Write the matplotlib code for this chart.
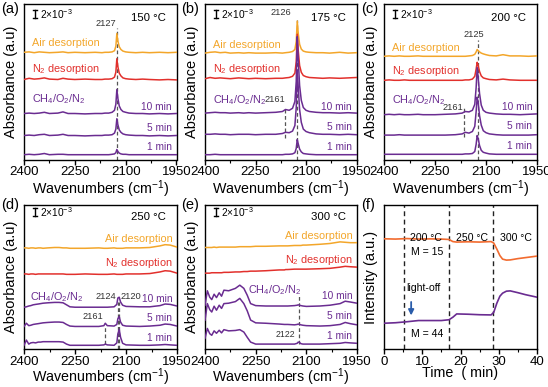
import matplotlib
matplotlib.use("Agg")
import matplotlib.pyplot as plt
from matplotlib.transforms import blended_transform_factory
from matplotlib.ticker import MultipleLocator

plt.rcParams['font.family'] = ['Liberation Sans', 'DejaVu Sans']
plt.rcParams['mathtext.fontset'] = 'custom'
plt.rcParams['mathtext.rm'] = 'Liberation Sans'
plt.rcParams['mathtext.it'] = 'Liberation Sans:italic'
plt.rcParams['mathtext.bf'] = 'Liberation Sans:bold'

# ---------------- data (absorbance, units of 1e-3, stacked as drawn) ----------------
wn_top = [2400, 2385, 2370, 2355, 2340, 2325, 2300, 2285, 2270, 2250, 2220, 2190, 2170, 2161,
          2150, 2140, 2133, 2129, 2126, 2123, 2119, 2114, 2108, 2100, 2090, 2070, 2050, 2030,
          2000, 1975, 1950]

a_air = [26.8, 26.9, 26.7, 26.9, 26.8, 26.7, 26.8, 26.9, 26.7, 26.8, 26.7, 26.8, 26.7, 26.8, 26.8, 26.9,
         27.2, 28.3, 31.5, 29.6, 28.2, 27.5, 27.1, 26.9, 26.8, 26.7, 26.8, 26.7, 26.8, 26.7, 26.8]
a_n2 = [20.0, 20.3, 20.1, 20.2, 20.4, 20.1, 20.0, 20.3, 20.1, 20.0, 20.1, 20.0, 20.0, 20.1, 20.1, 20.2,
        20.6, 21.8, 25.2, 23.2, 21.6, 20.9, 20.4, 20.2, 20.1, 20.0, 20.1, 20.0, 19.9, 20.0, 19.9]
a_10 = [11.5, 11.6, 11.5, 11.6, 11.8, 11.5, 11.6, 11.9, 11.5, 11.5, 11.4, 11.5, 11.5, 11.6, 11.6, 11.8,
        12.3, 13.8, 17.5, 15.3, 13.4, 12.5, 12.0, 11.8, 11.6, 11.5, 11.5, 11.4, 11.5, 11.4, 11.5]
a_5 = [6.0, 6.1, 6.0, 6.2, 6.3, 6.0, 6.1, 6.3, 6.0, 6.0, 5.9, 6.0, 6.0, 6.1, 6.1, 6.2,
       6.6, 7.6, 10.2, 8.7, 7.4, 6.8, 6.4, 6.2, 6.1, 6.0, 6.0, 5.9, 6.0, 5.9, 6.0]
a_1 = [1.2, 1.3, 1.2, 1.3, 1.5, 1.2, 1.3, 1.3, 1.2, 1.2, 1.2, 1.2, 1.2, 1.2, 1.2, 1.3,
       1.4, 1.7, 2.5, 2.0, 1.6, 1.4, 1.3, 1.3, 1.2, 1.2, 1.2, 1.2, 1.2, 1.2, 1.2]

b_air = [26.6, 26.8, 26.9, 26.7, 26.8, 26.6, 26.7, 26.6, 26.7, 26.6, 26.6, 26.7, 26.6, 26.7, 26.8, 27.0,
         27.5, 29.5, 34.6, 31.5, 28.8, 27.6, 27.1, 26.9, 26.8, 26.7, 26.7, 26.6, 26.8, 26.6, 26.7]
b_n2 = [20.2, 20.5, 20.3, 20.4, 20.3, 20.2, 20.4, 20.3, 20.2, 20.3, 20.2, 20.3, 20.3, 20.4, 20.5, 20.8,
        21.6, 24.5, 31.3, 27.2, 23.5, 21.8, 21.0, 20.7, 20.5, 20.4, 20.3, 20.4, 20.3, 20.4, 20.5]
b_10 = [11.6, 11.7, 11.8, 11.7, 11.7, 11.6, 11.7, 11.6, 11.7, 11.6, 11.7, 11.8, 12.0, 12.5, 12.3, 12.8,
        14.5, 19.5, 30.7, 25.0, 18.5, 14.8, 13.0, 12.3, 12.0, 11.8, 11.7, 11.7, 11.6, 11.7, 11.6]
b_5 = [6.3, 6.3, 6.4, 6.3, 6.3, 6.2, 6.3, 6.3, 6.3, 6.2, 6.3, 6.3, 6.5, 6.8, 6.7, 7.1,
       8.5, 13.0, 22.3, 18.0, 12.5, 9.3, 7.6, 7.0, 6.7, 6.4, 6.3, 6.3, 6.2, 6.3, 6.2]
b_1 = [1.2, 1.2, 1.3, 1.2, 1.2, 1.2, 1.2, 1.2, 1.2, 1.2, 1.2, 1.2, 1.2, 1.3, 1.3, 1.4,
       1.7, 2.8, 5.0, 3.9, 2.6, 1.9, 1.5, 1.4, 1.3, 1.2, 1.2, 1.2, 1.2, 1.2, 1.2]

c_air = [25.8, 25.9, 25.8, 25.9, 25.8, 25.8, 25.9, 25.8, 25.8, 25.8, 25.8, 25.8, 25.8, 25.8, 25.9, 26.0,
         26.3, 26.9, 27.5, 27.2, 26.9, 26.6, 26.4, 26.2, 26.0, 25.9, 26.2, 25.9, 25.9, 25.8, 25.9]
c_n2 = [19.8, 19.9, 19.8, 19.8, 19.9, 19.8, 19.8, 19.8, 19.8, 19.8, 19.8, 19.8, 19.8, 19.9, 19.9, 20.1,
        20.8, 22.6, 24.3, 23.5, 22.0, 20.9, 20.4, 20.2, 20.0, 19.9, 20.1, 19.9, 19.8, 19.8, 19.8]
c_10 = [11.2, 11.3, 11.2, 11.3, 11.2, 11.2, 11.3, 11.2, 11.2, 11.2, 11.3, 11.4, 11.6, 12.0, 11.9, 12.3,
        13.8, 18.0, 23.0, 20.5, 16.5, 13.6, 12.3, 11.8, 11.6, 11.4, 11.3, 11.3, 11.2, 11.3, 11.4]
c_5 = [6.1, 6.1, 6.1, 6.2, 6.1, 6.1, 6.1, 6.1, 6.1, 6.1, 6.1, 6.2, 6.4, 6.8, 6.6, 7.0,
       8.3, 12.0, 15.6, 14.2, 11.0, 8.6, 7.2, 6.7, 6.4, 6.2, 6.1, 6.1, 6.1, 6.1, 6.2]
c_1 = [1.3, 1.3, 1.3, 1.3, 1.3, 1.3, 1.3, 1.3, 1.3, 1.3, 1.3, 1.3, 1.3, 1.4, 1.4, 1.5,
       2.0, 3.8, 6.0, 5.2, 3.5, 2.3, 1.8, 1.6, 1.4, 1.3, 1.3, 1.3, 1.3, 1.3, 1.3]

wn_bot = [2400, 2393, 2386, 2380, 2373, 2366, 2358, 2351, 2344, 2330, 2310, 2297, 2285, 2275, 2265,
          2250, 2220, 2180, 2165, 2161, 2155, 2135, 2127, 2124, 2120, 2116, 2110, 2100, 2060, 2030,
          2000, 1985, 1970, 1950]

d_air = [25.3, 25.3, 25.2, 25.3, 25.3, 25.2, 25.3, 25.3, 25.2, 25.3, 25.4, 25.4, 25.3, 25.3, 25.2, 25.2, 25.2,
         25.3, 25.2, 25.2, 25.2, 25.3, 25.2, 25.2, 25.2, 25.2, 25.2, 25.3, 25.3, 25.4, 25.8, 26.1, 26.0, 25.5]
d_n2 = [18.8, 18.8, 18.7, 18.8, 18.8, 18.7, 18.8, 18.8, 18.8, 18.8, 18.8, 18.8, 18.8, 18.7, 18.7, 18.7, 18.8,
        18.7, 18.7, 18.7, 18.7, 18.8, 18.7, 18.7, 18.7, 18.7, 18.7, 18.8, 18.8, 18.9, 19.3, 19.6, 19.5, 19.0]
d_10 = [10.5, 10.6, 10.8, 10.9, 11.1, 11.2, 11.3, 11.4, 11.5, 11.6, 11.7, 11.7, 11.6, 11.1, 10.6, 10.5, 10.5,
        10.5, 10.5, 10.5, 10.5, 10.6, 11.2, 12.8, 13.0, 11.8, 11.0, 10.7, 10.6, 10.6, 10.9, 11.3, 11.2, 10.8]
d_5 = [5.7, 6.5, 5.9, 6.0, 6.2, 6.3, 6.4, 6.5, 6.6, 6.7, 6.8, 6.8, 6.7, 6.2, 5.8, 5.7, 5.7,
       5.7, 5.9, 6.5, 5.9, 5.8, 6.2, 7.6, 8.2, 6.8, 6.0, 5.8, 5.7, 5.8, 6.0, 6.3, 6.2, 5.8]
d_1 = [1.0, 2.3, 1.3, 1.6, 1.7, 1.6, 1.8, 1.8, 1.9, 1.9, 1.9, 1.9, 1.8, 1.3, 1.0, 1.0, 1.0,
       1.0, 1.1, 1.3, 1.1, 1.0, 1.6, 3.8, 5.0, 3.0, 1.5, 1.1, 1.0, 1.0, 1.1, 1.2, 1.1, 1.0]

e_air = [25.4, 25.4, 25.4, 25.4, 25.5, 25.4, 25.5, 25.5, 25.5, 25.5, 25.5, 25.6, 25.6, 25.6, 25.6, 25.7, 25.7,
         25.8, 25.8, 25.8, 25.8, 25.9, 25.9, 25.9, 25.9, 25.9, 26.0, 26.0, 26.2, 26.4, 26.8, 26.7, 26.6, 26.6]
e_n2 = [19.0, 19.0, 19.0, 19.1, 19.1, 19.1, 19.1, 19.1, 19.2, 19.2, 19.3, 19.3, 19.4, 19.4, 19.5, 19.5, 19.6,
        19.8, 19.8, 19.9, 19.9, 20.0, 20.0, 20.0, 20.0, 20.0, 20.0, 20.0, 20.1, 20.2, 20.5, 20.7, 20.6, 20.5]
e_10 = [11.0, 14.6, 13.0, 12.4, 13.75, 12.9, 14.1, 13.25, 14.75, 14.6, 15.2, 16.0, 15.2, 13.5, 11.4, 10.9, 10.8,
        10.8, 10.8, 10.8, 10.8, 10.9, 11.0, 11.1, 11.0, 10.9, 10.8, 10.7, 10.8, 11.0, 11.4, 12.0, 11.8, 11.5]
e_5 = [7.25, 11.4, 9.9, 9.3, 10.75, 9.75, 11.0, 10.2, 11.4, 11.5, 11.9, 12.7, 11.4, 9.6, 7.3, 6.6, 6.5,
       6.3, 6.2, 6.2, 6.2, 6.1, 6.2, 6.3, 6.2, 6.1, 6.0, 5.9, 5.8, 5.9, 6.2, 6.7, 6.4, 6.1]
e_1 = [2.75, 5.2, 3.9, 3.5, 4.6, 4.0, 4.75, 4.1, 4.9, 4.6, 4.7, 4.9, 4.3, 3.0, 1.8, 1.3, 1.3,
       1.3, 1.3, 1.3, 1.3, 1.3, 1.5, 1.8, 1.7, 1.4, 1.3, 1.3, 1.3, 1.4, 1.5, 1.7, 1.6, 1.5]

# panel (f): mass-spec signals
time_min = [0, 3, 6, 9, 12, 15, 17, 18, 19, 22, 25, 28, 28.7, 29.5, 30.3, 31, 32, 33, 35, 37, 40]
m15 = [110.3, 110.0, 110.5, 110.0, 110.2, 110.0, 109.6, 107.5, 107.0, 107.3, 107.0, 107.5, 106.0, 100.0,
       93.5, 90.0, 89.0, 89.2, 90.5, 91.5, 93.0]
m44 = [26.0, 26.5, 27.5, 28.7, 28.7, 28.7, 29.5, 32.0, 35.3, 35.0, 34.5, 34.3, 37.0, 46.0, 53.0, 56.0,
       58.0, 58.3, 56.5, 54.5, 52.0]
stage_bounds = [5.2, 17, 28.5]

temps = ["150 °C", "175 °C", "200 °C", "250 °C", "300 °C"]
trace_names = ["Air desorption", "N$_2$ desorption", "CH$_4$/O$_2$/N$_2$"]
time_labels = ["10 min", "5 min", "1 min"]

# ---------------- styling ----------------
C_AIR = '#F3A62A'
C_N2 = '#E2302C'
C_PUR = '#6A2C91'
C_ORF = '#F26B2F'
C_DASH = '#555555'
C_LBL = '#333333'
PK_FS = 6.3

W, H = 548, 387
fig = plt.figure(figsize=(W / 100, H / 100), dpi=100)


def rect(l, t, r, b):
    return [l / W, 1 - b / H, (r - l) / W, (b - t) / H]


def style_axis(ax, tpad=1.5):
    for s in ax.spines.values():
        s.set_linewidth(1.0)
    ax.tick_params(axis='y', left=False, labelleft=False)
    ax.tick_params(axis='x', which='major', direction='out', length=3.5, width=1.0, labelsize=9.5, pad=tpad)
    ax.tick_params(axis='x', which='minor', direction='out', length=2, width=0.8)


def spec_panel(r, ylim, wn, traces, temp, pos, xpad=0.0, tpad=1.5):
    ax = fig.add_axes(r)
    style_axis(ax, tpad)
    ax.set_xlim(2400, 1950)
    ax.set_ylim(0, ylim)
    ax.set_xticks([2400, 2250, 2100, 1950])
    ax.xaxis.set_minor_locator(MultipleLocator(75))
    ax.set_xlabel('Wavenumbers (cm$^{-1}$)', fontsize=10.3, labelpad=xpad)
    ax.set_ylabel('Absorbance (a.u)', fontsize=10.5, labelpad=4)
    cols = [C_AIR, C_N2, C_PUR, C_PUR, C_PUR]
    for tr, c in zip(traces, cols):
        ax.plot(wn, tr, color=c, lw=1.1, zorder=3)
    bt = blended_transform_factory(ax.transAxes, ax.transData)
    y0, y1 = pos['bar']
    ax.plot([0.072, 0.072], [y0, y1], color='k', lw=1.0, transform=bt)
    ax.plot([0.058, 0.086], [y0, y0], color='k', lw=1.0, transform=bt)
    ax.plot([0.058, 0.086], [y1, y1], color='k', lw=1.0, transform=bt)
    ax.text(0.105, (y0 + y1) / 2, '2×10$^{-3}$', transform=bt, fontsize=7.3, va='center', ha='left')
    ax.text(0.815, pos['temp'], temp, transform=ax.transAxes, fontsize=8.2, ha='center', va='center')
    for name, c, (x, y, ha) in zip(trace_names, [C_AIR, C_N2, C_PUR], pos['names']):
        ax.text(x, y, name, transform=bt, color=c, fontsize=7.8, ha=ha, va='center')
    for lab, y in zip(time_labels, pos['times']):
        ax.text(0.97, y, lab, transform=bt, color=C_PUR, fontsize=7.3, ha='right', va='center')
    return ax


def vdash(ax, x, y0, y1):
    ax.plot([x, x], [y0, y1], ls=(0, (3, 2)), color=C_DASH, lw=0.9, zorder=2)


top_rows = dict(bar=(35.3, 37.3), temp=0.905)
bot_rows = dict(bar=(33.2, 35.2), temp=0.915)

# (a)
axa = spec_panel(rect(24, 3.5, 176.5, 159.5), 39, wn_top, [a_air, a_n2, a_10, a_5, a_1], temps[0],
                 dict(top_rows, names=[(0.05, 29.0, 'left'), (0.05, 22.6, 'left'), (0.05, 15.0, 'left')],
                      times=[13.0, 7.8, 3.0]))
vdash(axa, 2127, 0, 32.8)
axa.text(2129, 33.0, '2127', fontsize=PK_FS + 0.4, color=C_LBL, ha='right', va='bottom')

# (b)
axb = spec_panel(rect(205, 3.5, 356.5, 159.5), 39, wn_top, [b_air, b_n2, b_10, b_5, b_1], temps[1],
                 dict(top_rows, names=[(0.05, 28.6, 'left'), (0.05, 22.6, 'left'), (0.05, 14.8, 'left')],
                      times=[13.0, 8.0, 3.0]))
vdash(axb, 2126, 0, 34.8)
vdash(axb, 2163, 5.4, 12.6)
axb.text(2145, 35.6, '2126', fontsize=PK_FS + 0.4, color=C_LBL, ha='right', va='bottom')
axb.text(2163, 13.8, '2161', fontsize=PK_FS + 0.4, color=C_LBL, ha='right', va='bottom')

# (c)
axc = spec_panel(rect(384, 3.5, 537, 159.5), 39, wn_top, [c_air, c_n2, c_10, c_5, c_1], temps[2],
                 dict(top_rows, names=[(0.05, 27.8, 'left'), (0.05, 22.0, 'left'), (0.05, 14.8, 'left')],
                      times=[13.2, 8.3, 3.4]))
vdash(axc, 2125, 0, 30.0)
vdash(axc, 2165, 5.6, 13.0)
axc.text(2137, 30.2, '2125', fontsize=PK_FS + 0.4, color=C_LBL, ha='center', va='bottom')
axc.text(2166, 11.9, '2161', fontsize=PK_FS + 0.4, color=C_LBL, ha='right', va='bottom')

# (d)
axd = spec_panel(rect(24, 205, 177, 349.3), 36, wn_bot, [d_air, d_n2, d_10, d_5, d_1], temps[3],
                 dict(bot_rows, names=[(0.97, 27.5, 'right'), (0.97, 21.6, 'right'), (0.04, 13.0, 'left')],
                      times=[12.5, 7.8, 2.8]), xpad=-0.8, tpad=1.0)
vdash(axd, 2124, 0, 11.8)
vdash(axd, 2120, 0, 11.8)
vdash(axd, 2161, 1.2, 5.6)
axd.text(2128, 12.0, '2124', fontsize=PK_FS + 0.4, color=C_LBL, ha='right', va='bottom')
axd.text(2116, 12.0, '2120', fontsize=PK_FS + 0.4, color=C_LBL, ha='left', va='bottom')
axd.text(2168, 7.0, '2161', fontsize=PK_FS + 0.4, color=C_LBL, ha='right', va='bottom')

# (e)
axe = spec_panel(rect(205, 205, 357, 349.3), 36, wn_bot, [e_air, e_n2, e_10, e_5, e_1], temps[4],
                 dict(bot_rows, names=[(0.97, 28.2, 'right'), (0.97, 22.2, 'right'), (0.285, 14.8, 'left')],
                      times=[13.3, 8.3, 3.2]), xpad=-0.8, tpad=1.0)
vdash(axe, 2122, 1.4, 13.2)
axe.text(2133, 2.6, '2122', fontsize=PK_FS, color=C_LBL, ha='right', va='bottom')

# (f)
axf = fig.add_axes(rect(384, 205, 537, 349.3))
style_axis(axf, 1.0)
axf.set_xlim(0, 40)
axf.set_ylim(0, 144)
axf.xaxis.set_major_locator(MultipleLocator(10))
axf.xaxis.set_minor_locator(MultipleLocator(5))
axf.set_xlabel('Time  ( min)', fontsize=10.3, labelpad=-0.8)
axf.set_ylabel('Intensity (a.u.)', fontsize=10.5, labelpad=4)
for xb in stage_bounds:
    axf.plot([xb, xb], [0, 144], ls=(0, (3.5, 2.5)), color='#222222', lw=1.0, zorder=2)
axf.plot(time_min, m15, color=C_ORF, lw=1.2, zorder=3)
axf.plot(time_min, m44, color=C_PUR, lw=1.2, zorder=3)
for xt, t in zip([11.0, 23.0, 34.6], ["200 °C", "250 °C", "300 °C"]):
    axf.text(xt, 111.5, t, fontsize=7.6, ha='center', va='center')
axf.text(11.2, 97.5, 'M = 15', fontsize=7.6, ha='center', va='center')
axf.text(11.2, 15.0, 'M = 44', fontsize=7.6, ha='center', va='center')
axf.text(10.2, 61.5, 'light-off', fontsize=7.6, ha='center', va='center')
axf.annotate('', xy=(7.1, 31), xytext=(7.1, 50),
             arrowprops=dict(arrowstyle='-|>', color='#2A5CAA', lw=1.3, mutation_scale=8))

# panel letters
for lab, (x, y) in zip(['(a)', '(b)', '(c)', '(d)', '(e)', '(f)'],
                       [(1, 9), (181, 9), (361, 9), (1, 205), (181, 205), (361, 205)]):
    fig.text(x / W, 1 - y / H, lab, fontsize=10.5, ha='left', va='center')

fig.savefig('out.png', dpi=100)
